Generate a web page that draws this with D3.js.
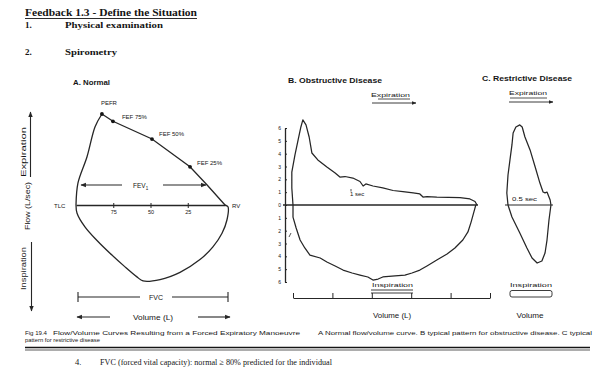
<!DOCTYPE html>
<html><head><meta charset="utf-8">
<script src="https://cdn.jsdelivr.net/npm/d3@7"></script>
<style>body{margin:0;background:#fff}svg{display:block}</style>
</head><body>
<script>
// ---------- DATA ----------
// Panel A: normal curve (volume as % of FVC exhaled, flow in L/sec)
const normalExpVol  = [0, 1.3, 7.4, 12.8, 17.4, 24.8, 51, 76.5, 88, 100];
const normalExpFlow = [0, 2.4, 5.3, 8.6, 10.0, 9.2, 7.25, 4.2, 2.2, 0];
const normalInspVol  = [0, 0.7, 6.0, 14.1, 22.8, 32.9, 40.9, 45.0, 56.4, 69.8, 83.2, 91.9, 98.0, 101.3, 102.0, 100];
const normalInspFlow = [0, -0.9, -2.4, -3.9, -5.3, -6.8, -7.9, -8.35, -8.2, -7.4, -6.0, -4.6, -3.1, -1.65, -0.2, 0];
const markerNames = ["PEFR", "FEF 75%", "FEF 50%", "FEF 25%"];
const markerVol   = [17.4, 24.8, 51, 76.5];
const markerFlow  = [10.0, 9.2, 7.25, 4.2];
const normalTickVals   = [25, 50, 75];
const normalTickLabels = ["75", "50", "25"];

// Panel B: obstructive disease (volume L, flow L/sec)
const obstExpVol  = [0,-0.03,-0.03,0.05,0.13,0.2,0.25,0.33,0.41,0.48,0.63,0.86,1.07,1.19,1.32,1.52,1.7,1.78,1.85,2.03,2.28,2.54,2.79,3.05,3.22,3.3,3.4,3.65,4.24,4.49,4.62,4.67];
const obstExpFlow = [0,1.33,2.57,3.9,5.07,6.08,6.63,6.24,5.3,4.05,3.51,2.96,2.49,2.18,2.22,2.1,1.83,1.48,1.64,1.48,1.33,1.13,1.05,0.94,0.86,0.62,0.66,0.62,0.58,0.47,0.27,0];
const obstInspVol  = [0,0,0.08,0.18,0.3,0.43,0.69,0.86,1.07,1.27,1.5,1.7,1.9,2.03,2.16,2.28,2.59,2.84,3.02,3.22,3.4,3.65,3.91,4.11,4.31,4.44,4.52,4.59,4.64];
const obstInspFlow = [0,-0.94,-1.79,-2.73,-3.35,-3.9,-4.13,-4.44,-4.75,-5.07,-5.3,-5.46,-5.61,-5.85,-5.77,-5.61,-5.53,-5.46,-5.3,-5.07,-4.75,-4.29,-3.82,-3.35,-2.73,-2.1,-1.33,-0.55,0];
const flowTicks = [-6,-5,-4,-3,-2,-1,0,1,2,3,4,5,6];
const volTicks  = [0,1,2,3,4,5];

// Panel C: restrictive disease (volume L, flow L/sec)
const restExpVol  = [0,-0.03,0,0.05,0.1,0.13,0.2,0.3,0.36,0.43,0.56,0.69,0.81,0.89,0.94,0.99,1.07,1.09];
const restExpFlow = [0,0.94,2.34,3.51,4.68,5.61,6.08,6.24,6.08,5.3,4.29,2.96,1.71,1.01,0.94,1.01,0.39,0];
const restInspVol  = [0,0.1,0.3,0.48,0.61,0.74,0.86,0.94,0.99,1.04,1.09];
const restInspFlow = [0,-0.94,-2.18,-3.35,-4.13,-4.52,-4.36,-3.74,-2.73,-1.17,0];

// ---------- DRAW ----------
const W = 597, H = 369;
const ink = "#151515", lineC = "#262626";
const sans = "'Liberation Sans', Arial, sans-serif";
const serif = "'Liberation Serif', 'Times New Roman', serif";
const svg = d3.select("body").append("svg").attr("width", W).attr("height", H);
svg.append("rect").attr("width", W).attr("height", H).attr("fill", "#fff");

const defs = svg.append("defs");
defs.append("marker").attr("id","ah").attr("viewBox","0 0 10 10").attr("refX",9).attr("refY",5)
  .attr("markerWidth",5).attr("markerHeight",5).attr("orient","auto-start-reverse")
  .append("path").attr("d","M0,1 L10,5 L0,9 z").attr("fill",lineC);

function txt(x, y, s, o = {}) {
  const t = svg.append("text").attr("x", x).attr("y", y).text(s)
    .attr("font-family", o.family || sans).attr("font-size", o.size || 6.5)
    .attr("fill", ink).attr("font-weight", o.weight || "normal")
    .attr("text-anchor", o.anchor || "start");
  if (o.len) t.attr("textLength", o.len).attr("lengthAdjust", "spacingAndGlyphs");
  if (o.rot) t.attr("transform", `rotate(-90,${x},${y})`);
  return t;
}
function ln(x1, y1, x2, y2, o = {}) {
  const l = svg.append("line").attr("x1",x1).attr("y1",y1).attr("x2",x2).attr("y2",y2)
    .attr("stroke", o.color || lineC).attr("stroke-width", o.w || 1.1);
  if (o.end) l.attr("marker-end","url(#ah)");
  if (o.start) l.attr("marker-start","url(#ah)");
  return l;
}
const zip = (a, b) => a.map((v, i) => [v, b[i]]);

// Header
txt(25, 16, "Feedback 1.3 - Define the Situation", {family: serif, weight: "bold", size: 9.5, len: 172});
ln(25, 18.5, 197, 18.5, {w: 0.9, color: ink});
txt(25, 28, "1.", {family: serif, weight: "bold", size: 9});
txt(65, 28, "Physical examination", {family: serif, weight: "bold", size: 9, len: 98});
txt(25, 55, "2.", {family: serif, weight: "bold", size: 9});
txt(65, 55, "Spirometry", {family: serif, weight: "bold", size: 9, len: 52});

// ----- Panel A -----
const xA = d3.scaleLinear().domain([0, 100]).range([76, 225]);
const yA = d3.scaleLinear().domain([-10, 10]).range([296, 114]);
const lineA = d3.line().x(d => xA(d[0])).y(d => yA(d[1])).curve(d3.curveCatmullRom.alpha(0.5));
txt(73, 85, "A. Normal", {weight: "bold", size: 7, len: 37});

const axA = svg.append("g").attr("transform", `translate(0,${yA(0)})`)
  .call(d3.axisBottom(xA).tickValues(normalTickVals).tickFormat((d, i) => normalTickLabels[i]).tickSize(3).tickSizeOuter(0).tickPadding(2));
axA.select(".domain").attr("stroke", lineC).attr("stroke-width", 1.3);
axA.selectAll(".tick line").attr("stroke", lineC).attr("y1", -2);
axA.selectAll(".tick text").attr("font-family", sans).attr("font-size", 5.5).attr("fill", ink);

svg.append("path").datum(zip(normalExpVol.slice(0,5), normalExpFlow.slice(0,5))).attr("d", lineA)
  .attr("fill","none").attr("stroke",lineC).attr("stroke-width",1.3);
svg.append("path").datum(zip(normalExpVol.slice(4), normalExpFlow.slice(4)))
  .attr("d", d3.line().x(d => xA(d[0])).y(d => yA(d[1])))
  .attr("fill","none").attr("stroke",lineC).attr("stroke-width",1.3);
svg.append("path").datum(zip(normalInspVol, normalInspFlow)).attr("d", lineA)
  .attr("fill","none").attr("stroke",lineC).attr("stroke-width",1.3);

svg.selectAll(".mk").data(markerVol).enter().append("circle")
  .attr("cx", (d) => xA(d)).attr("cy", (d, i) => yA(markerFlow[i])).attr("r", 1.9).attr("fill", ink);
const mkOff = [[-1, -9], [9, -2], [7, -3], [7, -2]];
markerNames.forEach((n, i) => txt(xA(markerVol[i]) + mkOff[i][0], yA(markerFlow[i]) + mkOff[i][1], n, {size: 6}));

txt(54, 208, "TLC", {size: 6});
txt(232, 208, "RV", {size: 6});
// FEV1
ln(122, 185, 81, 185, {end: true});
ln(163, 185, 206, 185, {end: true});
const fev = txt(133, 188, "FEV", {size: 6.5});
fev.append("tspan").text("1").attr("font-size", 4.5).attr("dy", 1.5);
// FVC bracket
ln(78, 297, 140, 297); ln(172, 297, 228, 297);
ln(78, 292, 78, 302); ln(228, 292, 228, 302);
txt(156, 300, "FVC", {size: 7, anchor: "middle"});
// Volume
ln(110, 317, 77, 317, {end: true});
ln(198, 317, 230, 317, {end: true});
txt(153, 319.5, "Volume (L)", {size: 6.5, anchor: "middle", len: 40});
// Rotated labels
txt(25.5, 177, "Expiration", {size: 6.5, rot: true, len: 50});
ln(30.5, 177, 30.5, 112, {end: true});
txt(30, 230, "Flow (L/sec)", {size: 6.5, rot: true, len: 48});
txt(25.5, 290, "Inspiration", {size: 6.5, rot: true, len: 43});
ln(31.5, 242, 31.5, 311, {end: true});

// ----- Panel B -----
const xB = d3.scaleLinear().domain([0, 5]).range([293, 490]);
const yF = d3.scaleLinear().domain([-6, 6]).range([282, 128]);
const lineB = d3.line().x(d => xB(d[0])).y(d => yF(d[1]));
txt(288, 83, "B. Obstructive Disease", {weight: "bold", size: 7, len: 94});
txt(371, 97, "Expiration", {size: 6, len: 39});
ln(378, 99, 410, 99, {w: 0.8});
ln(372, 103, 416, 103, {w: 0.9, end: true});

const ayB = svg.append("g").attr("transform", "translate(285,0)")
  .call(d3.axisLeft(yF).tickValues(flowTicks).tickFormat(d => Math.abs(d)).tickSize(3).tickSizeOuter(0).tickPadding(1));
ayB.select(".domain").attr("stroke", lineC).attr("stroke-width", 1.3);
ayB.selectAll(".tick line").attr("stroke", lineC).attr("x2", 2);
ayB.selectAll(".tick text").attr("font-family", sans).attr("font-size", 5).attr("fill", ink);

ln(283, yF(0), 478, yF(0), {w: 1.3});
svg.append("path").datum(zip(obstExpVol, obstExpFlow)).attr("d", lineB)
  .attr("fill","none").attr("stroke",lineC).attr("stroke-width",1.25).attr("stroke-linejoin","round");
svg.append("path").datum(zip(obstInspVol, obstInspFlow)).attr("d", lineB)
  .attr("fill","none").attr("stroke",lineC).attr("stroke-width",1.25).attr("stroke-linejoin","round");
txt(350, 196, "1 sec", {size: 6});
ln(351, 189, 351, 191.5, {w: 0.8});
ln(289, 237, 291, 233, {w: 0.8});

const axB = svg.append("g").attr("transform", "translate(0,298)")
  .call(d3.axisBottom(xB).tickValues(volTicks).tickFormat("").tickSize(-5).tickSizeOuter(0));
axB.select(".domain").attr("stroke", lineC).attr("stroke-width", 1.2);
axB.selectAll(".tick line").attr("stroke", lineC);
txt(372, 287, "Inspiration", {size: 6, len: 41});
ln(371, 290, 413, 290, {w: 0.9});
ln(371, 293, 413, 293, {w: 0.9});
txt(392, 318, "Volume (L)", {size: 6.5, anchor: "middle", len: 38});

// ----- Panel C -----
const xC = d3.scaleLinear().domain([0, 1]).range([508, 547.4]);
const lineC2 = d3.line().x(d => xC(d[0])).y(d => yF(d[1]));
txt(482, 81, "C. Restrictive Disease", {weight: "bold", size: 7, len: 90});
txt(509, 95, "Expiration", {size: 6, len: 38});
ln(510, 98, 547, 98, {w: 0.8});
ln(509, 102, 553, 102, {w: 0.9, end: true});
ln(505, yF(0), 553, yF(0), {w: 1.2});
svg.append("path").datum(zip(restExpVol, restExpFlow)).attr("d", lineC2)
  .attr("fill","none").attr("stroke",lineC).attr("stroke-width",1.25).attr("stroke-linejoin","round");
svg.append("path").datum(zip(restInspVol, restInspFlow)).attr("d", lineC2)
  .attr("fill","none").attr("stroke",lineC).attr("stroke-width",1.25).attr("stroke-linejoin","round");
txt(512, 201, "0.5 sec", {size: 6, len: 25});
txt(510, 287, "Inspiration", {size: 6, len: 42});
svg.append("rect").attr("x", 510).attr("y", 290.5).attr("width", 42).attr("height", 6.5).attr("rx", 2)
  .attr("fill", "none").attr("stroke", lineC).attr("stroke-width", 0.9);
txt(530, 318, "Volume", {size: 6.5, anchor: "middle", len: 27});

// Caption
txt(25, 335, "Fig 19.4", {size: 6, len: 22});
txt(53, 335, "Flow/Volume Curves Resulting from a Forced Expiratory Manoeuvre", {size: 6, len: 247});
txt(318, 335, "A Normal flow/volume curve. B typical pattern for obstructive disease. C typical", {size: 4.5, len: 274});
txt(25, 342, "pattern for restrictive disease", {size: 4.5, len: 75});
ln(25, 347.5, 590, 347.5, {w: 1.6, color: ink});
ln(25, 350, 590, 350, {w: 0.7, color: ink});
txt(75, 365, "4.", {family: serif, size: 8.5});
txt(100, 365, "FVC (forced vital capacity): normal ≥ 80% predicted for the individual", {family: serif, size: 8.5, len: 232});
</script>
</body></html>
